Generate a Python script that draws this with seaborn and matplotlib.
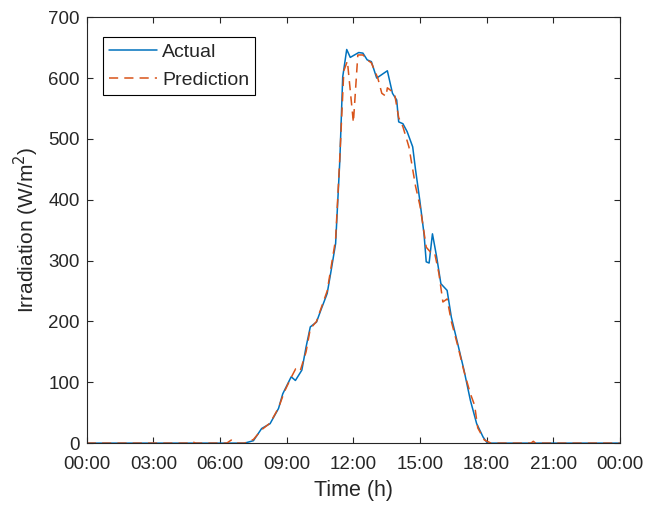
import numpy as np
import pandas as pd
import matplotlib
matplotlib.use("Agg")
import matplotlib.pyplot as plt
import seaborn as sns

# 실측 일사량 (시간[h], W/m^2)
actual_h = [0, 3, 6, 7.1, 7.5, 7.87, 8.25, 8.63, 8.82, 9.2, 9.39, 9.68, 9.87, 10.06,
            10.34, 10.53, 10.82, 11.0, 11.2, 11.39, 11.52, 11.7, 11.86, 12.24, 12.43,
            12.62, 12.81, 13.05, 13.53, 13.76, 13.95, 14.04, 14.23, 14.42, 14.67, 14.8,
            14.99, 15.18, 15.28, 15.41, 15.56, 15.75, 15.94, 16.22, 16.41, 16.7, 16.98,
            17.27, 17.55, 17.84, 18.03, 21, 24]
actual_v = [0, 0, 0, 0, 4, 24, 32, 57, 81, 109, 103, 120, 158, 191,
            199, 218, 246, 284, 328, 465, 602, 647, 634, 642, 641,
            630, 627, 600, 612, 575, 564, 528, 525, 512, 487, 449,
            399, 344, 298, 296, 344, 306, 262, 251, 207, 163, 120,
            70, 32, 10, 0, 0, 0]

# 예측 일사량
pred_h = [0, 3, 4.5, 4.7, 4.9, 6.3, 6.5, 6.7, 7.1, 7.5, 7.87, 8.25, 8.63, 8.9, 9.2,
          9.4, 9.6, 9.87, 10.06, 10.34, 10.53, 10.82, 11.0, 11.2, 11.39, 11.57, 11.73,
          12.0, 12.2, 12.43, 12.62, 12.81, 13.1, 13.28, 13.47, 13.53, 13.85, 14.04,
          14.23, 14.5, 14.8, 15.0, 15.28, 15.47, 15.65, 15.85, 16.03, 16.22, 16.41,
          16.7, 16.98, 17.27, 17.46, 17.6, 17.9, 18.2, 20.0, 20.1, 20.2, 24]
pred_v = [0, 0, 0, 3, 0, 0, 5, 0, 0, 6, 22, 33, 58, 85, 108,
          122, 118, 150, 188, 200, 220, 250, 290, 335, 470, 612, 628,
          527, 638, 638, 630, 625, 600, 575, 570, 584, 575, 535,
          520, 487, 422, 390, 322, 314, 314, 279, 232, 237, 200,
          160, 118, 81, 62, 25, 5, 0, 0, 3, 0, 0]

xtick_pos = [0, 3, 6, 9, 12, 15, 18, 21, 24]
xtick_labels = ["00:00", "03:00", "06:00", "09:00", "12:00", "15:00", "18:00", "21:00", "00:00"]

df_act = pd.DataFrame({"Time": actual_h, "Irr": actual_v})
df_pred = pd.DataFrame({"Time": pred_h, "Irr": pred_v})

sns.set_style("ticks")
plt.rcParams["font.family"] = ["Liberation Sans", "DejaVu Sans"]

fig = plt.figure(figsize=(6.63, 5.07), dpi=100)
ax = fig.add_axes([0.131, 0.126, 0.804, 0.840])

sns.lineplot(data=df_act, x="Time", y="Irr", ax=ax, color="#0072BD", linewidth=1.1, label="Actual")
sns.lineplot(data=df_pred, x="Time", y="Irr", ax=ax, color="#D95319", linewidth=1.1,
             linestyle=(0, (6, 4)), label="Prediction")

ax.set_xlim(0, 24)
ax.set_ylim(0, 700)
ax.set_xticks(xtick_pos)
ax.set_xticklabels(xtick_labels)
ax.set_yticks(range(0, 701, 100))
ax.tick_params(direction="in", top=True, right=True, length=4, width=0.8,
               labelsize=13.5, colors="#262626", labelcolor="#262626")
ax.tick_params(axis="x", pad=9)
ax.tick_params(axis="y", pad=5)
for s in ax.spines.values():
    s.set_color("#262626")
    s.set_linewidth(0.8)
    s.set_visible(True)

ax.set_xlabel("Time (h)", fontsize=15.5, color="#262626", labelpad=5)
ax.set_ylabel("Irradiation (W/m$^2$)", fontsize=15, color="#262626", labelpad=5)

leg = ax.legend(loc="upper left", bbox_to_anchor=(0.03, 0.953), fontsize=14,
                frameon=True, fancybox=False, edgecolor="black", framealpha=1,
                handlelength=2.5, handletextpad=0.25, borderpad=0.3, labelspacing=0.55,
                borderaxespad=0)
leg.get_frame().set_linewidth(0.8)

fig.savefig("out.png", dpi=100)
